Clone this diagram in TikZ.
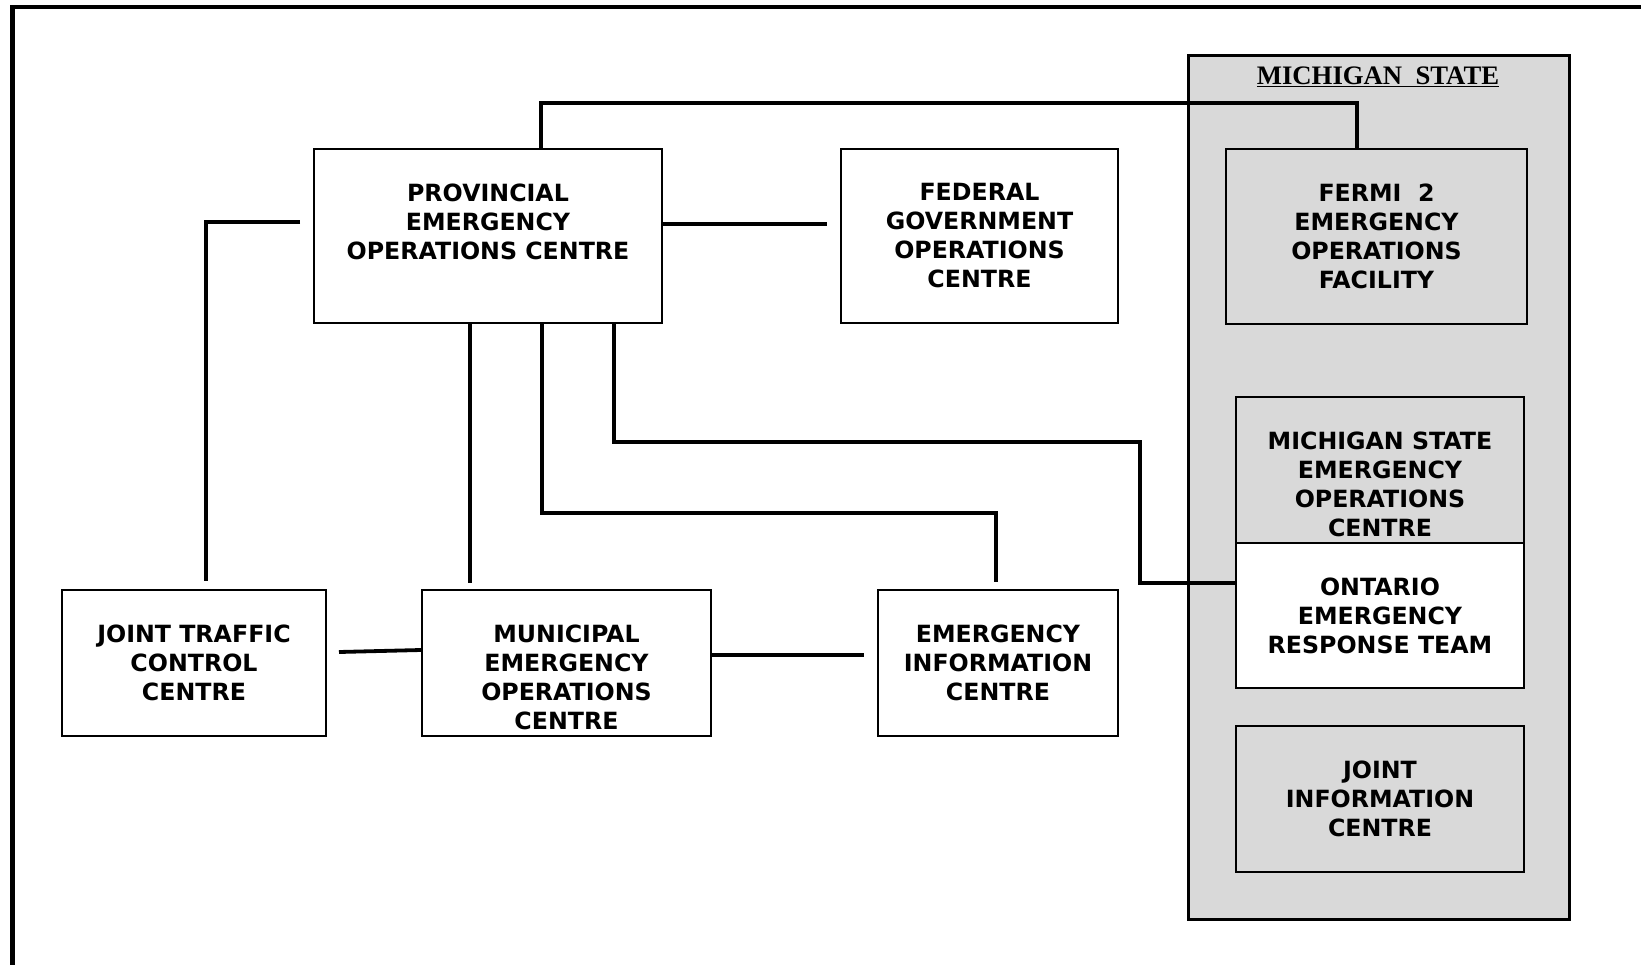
\documentclass[tikz,border=0pt]{standalone}
\usepackage{fontspec}
\newfontfamily\boxfont{DejaVu Sans}
\newfontfamily\titlefont{Liberation Serif}
\definecolor{michgrey}{RGB}{217,217,217}

\begin{document}
\begin{tikzpicture}[x=1pt, y=-1pt,
                    box/.style = {draw, line width=2pt, anchor=north west, inner sep=0pt, fill=white},
                    greybox/.style = {box, fill=michgrey},
                    boxtext/.style = {anchor=north, yshift=-35.5pt, align=center, inner sep=0pt,
                                      font=\boxfont\bfseries\fontsize{23.7}{29}\selectfont},
                    link/.style = {line width=3.8pt}]
                    \useasboundingbox (0,0) rectangle (1641,964);
                    \draw[line width=4.5pt] (12.5,7) rectangle (1680,1000);

                    % michigan side
                    \node[greybox, line width=2.5pt, minimum width=381pt, minimum height=864pt] (mich) at (1187,54) {};
                    \node[anchor=base, inner sep=0pt, font=\titlefont\bfseries\fontsize{26.7}{31}\selectfont]
                        (michtitle) at (1378,84.3) {\underline{MICHIGAN\ \ STATE}};

                    \node[greybox, minimum width=301pt, minimum height=175pt,
                          label={[boxtext]north:FERMI\ \ 2\\EMERGENCY\\OPERATIONS\\FACILITY}] (fermi) at (1225,148) {};
                    \node[greybox, minimum width=288pt, minimum height=146pt,
                          label={[boxtext]north:MICHIGAN STATE\\EMERGENCY\\OPERATIONS\\CENTRE}] (mseoc) at (1235,396) {};
                    \node[box, minimum width=288pt, minimum height=145pt,
                          label={[boxtext]north:ONTARIO\\EMERGENCY\\RESPONSE TEAM}] (oert) at (1235,542) {};
                    \node[greybox, minimum width=288pt, minimum height=146pt,
                          label={[boxtext]north:JOINT\\INFORMATION\\CENTRE}] (jic) at (1235,725) {};

                    % ontario side
                    \node[box, minimum width=348pt, minimum height=174pt,
                          label={[boxtext]north:PROVINCIAL\\EMERGENCY\\OPERATIONS CENTRE}] (peoc) at (313,148) {};
                    \node[box, minimum width=277pt, minimum height=174pt,
                          label={[boxtext]north:FEDERAL\\GOVERNMENT\\OPERATIONS\\CENTRE}] (fgoc) at (840,148) {};
                    \node[box, minimum width=264pt, minimum height=146pt,
                          label={[boxtext]north:JOINT TRAFFIC\\CONTROL\\CENTRE}] (jtcc) at (61,589) {};
                    \node[box, minimum width=289pt, minimum height=146pt,
                          label={[boxtext]north:MUNICIPAL\\EMERGENCY\\OPERATIONS\\CENTRE}] (meoc) at (421,589) {};
                    \node[box, minimum width=240pt, minimum height=146pt,
                          label={[boxtext]north:EMERGENCY\\INFORMATION\\CENTRE}] (eic) at (877,589) {};

                    % links
                    \draw[link] ([xshift=53pt]peoc.north) -- ++(0,-45) -| ([xshift=-19.5pt]fermi.north);
                    \draw[link] ([yshift=12pt]peoc.east) -- ([xshift=-13pt,yshift=12pt]fgoc.west);
                    \draw[link] ([xshift=-13pt,yshift=14pt]peoc.west) -| ([xshift=12pt,yshift=8pt]jtcc.north);
                    \draw[link] ([xshift=-18pt]peoc.south) -- ([xshift=-18pt,yshift=6pt]peoc.south |- meoc.north);
                    \draw[link] ([xshift=54pt]peoc.south) -- ++(0,189) -| ([xshift=-2pt,yshift=7pt]eic.north);
                    \draw[link] ([xshift=126pt]peoc.south) -- ++(0,118) -| ([xshift=-95pt,yshift=32.5pt]oert.west)
                                -- ([yshift=32.5pt]oert.west);
                    \draw[link] ([xshift=12pt,yshift=11pt]jtcc.east) -- ([yshift=13pt]meoc.west);
                    \draw[link] ([yshift=8pt]meoc.east) -- ([xshift=-13pt,yshift=8pt]eic.west);
                \end{tikzpicture}
\end{document}
